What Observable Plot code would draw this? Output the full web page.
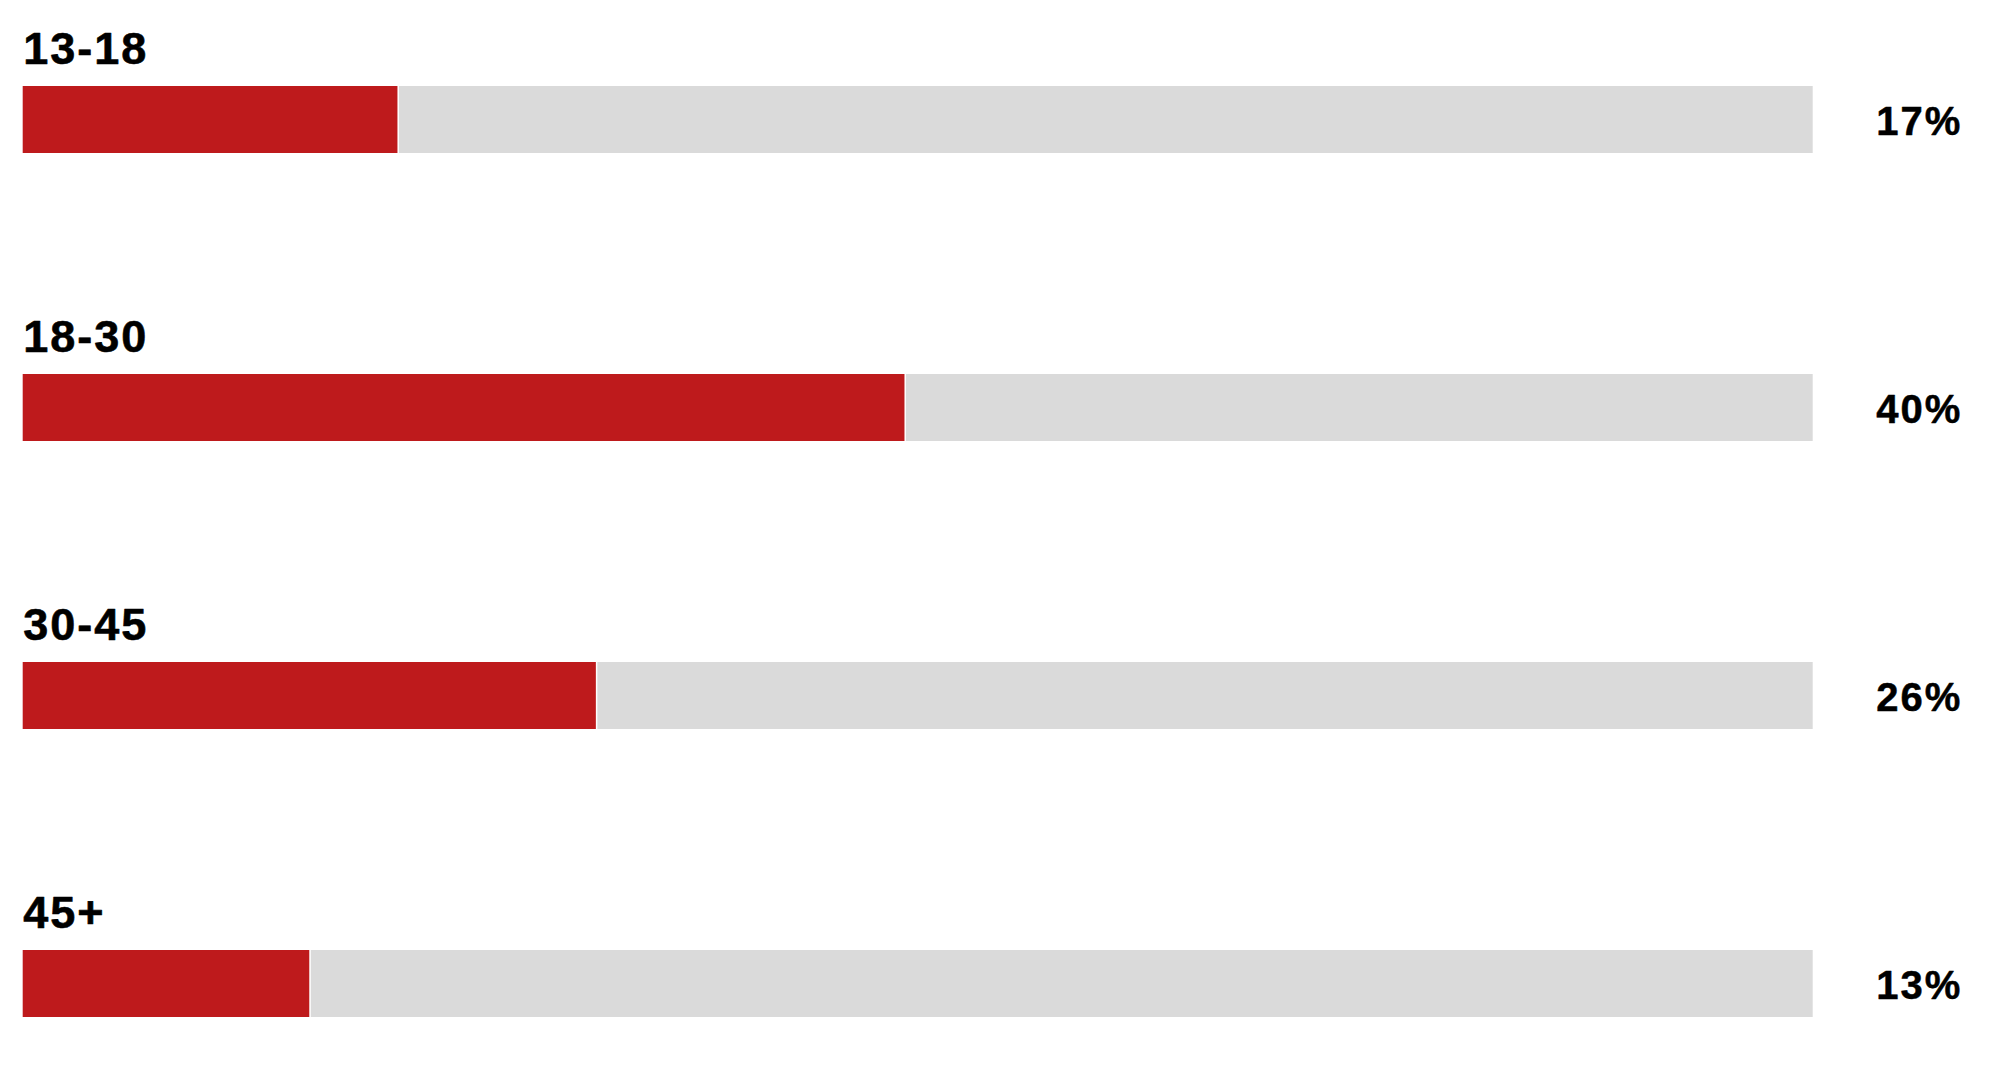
<!DOCTYPE html>
<html>
<head>
<meta charset="utf-8">
<script src="https://cdn.jsdelivr.net/npm/d3@7"></script>
<script src="https://cdn.jsdelivr.net/npm/@observablehq/plot@0.6"></script>
<style>
  html, body { margin: 0; padding: 0; background: #fff; }
  #chart svg { display: block; }
  .cat-label text { letter-spacing: 2px; }
  .pct-label text { letter-spacing: 2px; }
</style>
</head>
<body>
<div id="chart"></div>
<script>
const categories = ["13-18", "18-30", "30-45", "45+"];
const values = [17, 40, 26, 13];
const labels = ["17%", "40%", "26%", "13%"];
const scaleMax = 81.2;

const data = categories.map((c, i) => ({ cat: c, value: values[i], label: labels[i], max: scaleMax }));

const chart = Plot.plot({
  width: 2000,
  height: 1071,
  margin: 0,
  style: { fontFamily: "'Liberation Sans', Arial, sans-serif", background: "#fff" },
  x: { domain: [0, scaleMax], range: [22.7, 1812.7], axis: null },
  y: { domain: categories, range: [-25, 1127], paddingInner: 0.769, paddingOuter: 0.3845, axis: null },
  marks: [
    Plot.barX(data, { y: "cat", x1: "value", x2: "max", fill: "#dadada", insetLeft: 1.5 }),
    Plot.barX(data, { y: "cat", x1: 0, x2: "value", fill: "#be1a1c" }),
    Plot.text(data, {
      y: "cat", x: 0, text: "cat", textAnchor: "start", lineAnchor: "bottom",
      dy: -56, fontSize: 45, fontWeight: "bold", fill: "#000",
      stroke: "#000", strokeWidth: 0.6, className: "cat-label"
    }),
    Plot.text(data, {
      y: "cat", x: "max", text: "label", textAnchor: "start", lineAnchor: "middle",
      dx: 63, dy: 2, fontSize: 40, fontWeight: "bold", fill: "#000",
      stroke: "#000", strokeWidth: 0.5, className: "pct-label"
    })
  ]
});
document.getElementById("chart").appendChild(chart);
</script>
</body>
</html>
